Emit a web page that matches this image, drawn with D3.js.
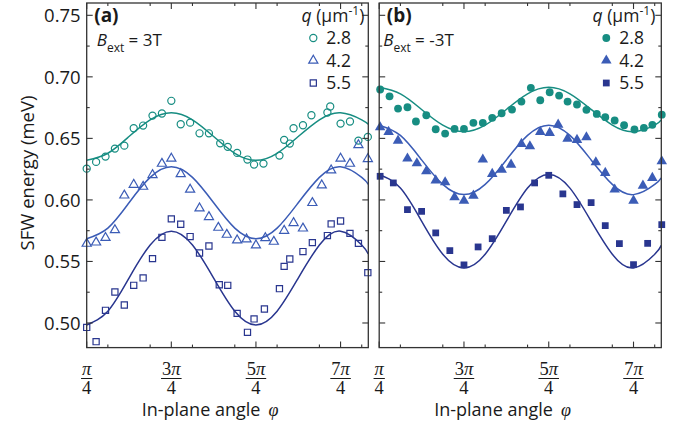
<!DOCTYPE html>
<html>
<head>
<meta charset="utf-8">
<script src="https://cdn.jsdelivr.net/npm/d3@7"></script>
<style>
  body { margin: 0; background: #fff; }
  svg { display: block; }
  text { font-family: "Open Sans", sans-serif; fill: #1a1a1a; }
</style>
</head>
<body>
<svg id="chart" width="676" height="425"></svg>
<script>
// ---- data (angle in degrees, energy in meV) ----
var angA1 = [45,55,65,75,85,95,105,115,125,135,145,155,165,175,187,195,205,216,223,233,250,255,261,265,275,284,301,304,315,325,334,344];
var valA1 = [.6254,.6309,.6352,.6417,.6441,.6582,.6604,.6685,.6702,.6805,.6615,.6628,.6541,.6541,.6460,.6431,.6382,.6328,.6287,.6295,.6360,.6488,.6458,.6582,.6607,.6688,.6710,.6759,.6620,.6637,.6482,.6512];

var angA2 = [45,55,65,75,85,95,105,115,125,135,145,155,165,175,185,194,205,215,225,235,244,255,265,275,285,295,305,315,325,334,344];
var valA2 = [.5645,.5655,.5693,.5756,.6037,.6124,.6108,.6203,.6295,.6336,.6211,.6084,.5932,.5862,.5775,.5718,.5672,.5680,.5631,.5691,.5661,.5750,.5813,.5769,.5976,.6119,.6241,.6336,.6295,.6446,.6333];

var angA3 = [45,55,65,75,85,95,105,115,125,135,145,155,165,175,186,195,205,216,223,234,250,255,261,275,285,301,305,315,325,334,344];
var valA3 = [.4964,.4848,.5103,.5252,.5146,.5306,.5366,.5523,.5696,.5846,.5802,.5702,.5569,.5626,.5311,.5306,.5078,.4924,.5033,.5114,.5279,.5460,.5520,.5580,.5653,.5710,.5805,.5829,.5728,.5647,.5409];

var angB1 = [46,56,65,75,84,95,105,115,125,135,145,155,165,175,186,196,206,216,226,236,245,255,265,276,285,295,305,316,326,335,345];
var valB1 = [.6897,.6842,.6742,.6753,.6637,.6688,.6574,.6539,.6577,.6577,.6626,.6626,.6667,.6704,.6734,.6799,.6911,.6810,.6875,.6848,.6799,.6775,.6732,.6699,.6672,.6645,.6607,.6572,.6585,.6610,.6693];

var angB2 = [46,55,65,75,85,95,105,115,125,135,145,155,165,175,185,196,205,216,226,235,245,255,265,275,285,295,315,325,335,345];
var valB2 = [.6590,.6553,.6482,.6336,.6298,.6233,.6159,.6143,.6021,.5994,.6035,.6328,.6211,.6246,.6287,.6455,.6436,.6553,.6545,.6612,.6498,.6488,.6509,.6306,.6220,.6084,.5994,.6116,.6179,.6314];

var angB3 = [46,60,75,90,105,120,135,150,165,180,195,210,225,240,255,270,285,300,315,330,345];
var valB3 = [.6192,.6138,.5921,.5907,.5732,.5588,.5472,.5618,.5685,.5915,.5943,.6138,.6200,.6049,.5962,.5978,.5791,.5645,.5474,.5647,.5799];

// fit curves
var fitAng = [45,67.5,90,112.5,135,157.5,180,202.5,225,247.5,270,292.5,315,337.5,344.5];
var fitA1 = [.6322,.6379,.6515,.6651,.6708,.6651,.6515,.6379,.6322,.6379,.6515,.6651,.6708,.6651,.6614];
var fitA2 = [.5685,.5771,.5977,.6183,.6269,.6183,.5977,.5771,.5685,.5771,.5977,.6183,.6269,.6183,.6127];
var fitA3 = [.4984,.5096,.5365,.5634,.5746,.5634,.5365,.5096,.4984,.5096,.5365,.5634,.5746,.5634,.5561];
var fitB1 = [.6915,.6862,.6735,.6608,.6555,.6608,.6735,.6862,.6915,.6862,.6735,.6608,.6555,.6608,.6650];
var fitB2 = [.6607,.6524,.6325,.6126,.6043,.6126,.6325,.6524,.6607,.6524,.6325,.6126,.6043,.6126,.6180];
var fitB3 = [.6207,.6096,.5827,.5558,.5447,.5558,.5827,.6096,.6207,.6096,.5827,.5558,.5447,.5558,.5631];

var qLabels = ["2.8", "4.2", "5.5"];
var yTicks = [0.50, 0.55, 0.60, 0.65, 0.70, 0.75];
var xTicks = [45, 135, 225, 315];
var xTickNum = ["", "3", "5", "7"];
var xMinor = [67.5, 112.5, 157.5, 202.5, 247.5, 292.5, 337.5];

var colors = ["#178d82", "#3b5cb6", "#29368f"];
var shapes = [d3.symbolCircle, d3.symbolTriangle, d3.symbolSquare];

var svg = d3.select("#chart");
var plotTop = 3, plotBottom = 347.6;

var y = d3.scaleLinear().domain([0.48, 0.76]).range([plotBottom, plotTop]);
var yMinor = [0.525, 0.575, 0.625, 0.675, 0.725];

var panels = [
  { left: 86.7, right: 368.3, tag: "(a)", field: "3T", open: true, showY: true,
    series: [[angA1, valA1, fitA1], [angA2, valA2, fitA2], [angA3, valA3, fitA3]] },
  { left: 379.2, right: 661.3, tag: "(b)", field: "-3T", open: false, showY: false,
    series: [[angB1, valB1, fitB1], [angB2, valB2, fitB2], [angB3, valB3, fitB3]] }
];

panels.forEach(function(p, pi) {
  var x = d3.scaleLinear().domain([45, 344.5]).range([p.left, p.right]);
  var g = svg.append("g");

  g.append("clipPath").attr("id", "clip" + pi)
    .append("rect")
    .attr("x", p.left).attr("y", plotTop)
    .attr("width", p.right - p.left).attr("height", plotBottom - plotTop);

  // fit lines
  var line = d3.line().x(d => x(d[0])).y(d => y(d[1])).curve(d3.curveNatural);
  p.series.forEach(function(s, i) {
    g.append("path")
      .attr("clip-path", "url(#clip" + pi + ")")
      .attr("d", line(fitAng.map((a, k) => [a, s[2][k]])))
      .attr("fill", "none")
      .attr("stroke", colors[i])
      .attr("stroke-width", 1.5);
  });

  // markers
  var sizes = p.open ? [40, 36, 38] : [48, 48, 46];
  p.series.forEach(function(s, i) {
    var sym = d3.symbol().type(shapes[i]).size(sizes[i]);
    g.append("g").selectAll("path")
      .data(s[0].map((a, k) => [a, s[1][k]]))
      .enter()
      .append("path")
      .attr("transform", d => `translate(${x(d[0])},${y(d[1])})`)
      .attr("d", sym)
      .attr("fill", p.open ? "none" : colors[i])
      .attr("stroke", p.open ? colors[i] : "none")
      .attr("stroke-width", 1.2);
  });

  // frame
  g.append("rect")
    .attr("x", p.left).attr("y", plotTop)
    .attr("width", p.right - p.left).attr("height", plotBottom - plotTop)
    .attr("fill", "none").attr("stroke", "#333").attr("stroke-width", 1.3);

  var ticks = g.append("g").attr("stroke", "#333").attr("stroke-width", 1.1);
  xTicks.forEach(function(t) {
    ticks.append("line").attr("x1", x(t)).attr("x2", x(t)).attr("y1", plotBottom).attr("y2", plotBottom - 6);
    ticks.append("line").attr("x1", x(t)).attr("x2", x(t)).attr("y1", plotTop).attr("y2", plotTop + 6);
  });
  xMinor.forEach(function(t) {
    ticks.append("line").attr("x1", x(t)).attr("x2", x(t)).attr("y1", plotBottom).attr("y2", plotBottom - 3);
    ticks.append("line").attr("x1", x(t)).attr("x2", x(t)).attr("y1", plotTop).attr("y2", plotTop + 3);
  });
  yTicks.forEach(function(t) {
    ticks.append("line").attr("x1", p.left).attr("x2", p.left + 6).attr("y1", y(t)).attr("y2", y(t));
    ticks.append("line").attr("x1", p.right).attr("x2", p.right - 6).attr("y1", y(t)).attr("y2", y(t));
  });
  yMinor.forEach(function(t) {
    ticks.append("line").attr("x1", p.left).attr("x2", p.left + 3).attr("y1", y(t)).attr("y2", y(t));
    ticks.append("line").attr("x1", p.right).attr("x2", p.right - 3).attr("y1", y(t)).attr("y2", y(t));
  });

  // y tick labels
  if (p.showY) {
    g.append("g").selectAll("text")
      .data(yTicks).enter().append("text")
      .attr("x", p.left - 6).attr("y", d => y(d))
      .attr("dy", "0.36em")
      .attr("text-anchor", "end")
      .attr("font-size", 18.5)
      .text(d => d.toFixed(2));
  }

  // x tick labels as fractions
  xTicks.forEach(function(t, k) {
    var num = g.append("text")
      .attr("x", x(t)).attr("y", 375)
      .attr("text-anchor", "middle")
      .style("font-family", "'Liberation Serif', serif")
      .attr("font-size", 18.5);
    num.append("tspan").text(xTickNum[k]);
    num.append("tspan").attr("font-style", "italic").text("π");
    var w = num.node().getComputedTextLength() + 2;
    g.append("line")
      .attr("x1", x(t) - w / 2).attr("x2", x(t) + w / 2)
      .attr("y1", 378.5).attr("y2", 378.5)
      .attr("stroke", "#1a1a1a").attr("stroke-width", 1);
    g.append("text")
      .attr("x", x(t)).attr("y", 394)
      .attr("text-anchor", "middle")
      .style("font-family", "'Liberation Serif', serif")
      .attr("font-size", 18.5)
      .text("4");
  });

  // x axis title
  var xt = g.append("text")
    .attr("x", p.left + 55).attr("y", 416)
    .attr("font-size", 18);
  xt.append("tspan").text("In-plane angle");
  xt.append("tspan").attr("dx", 8)
    .style("font-family", "'Liberation Serif', serif")
    .attr("font-style", "italic").text("φ");

  // panel tag and field
  g.append("text")
    .attr("x", p.left + 7.5).attr("y", 22)
    .attr("font-size", 19).attr("font-weight", "bold")
    .text(p.tag);
  var bt = g.append("text")
    .attr("x", p.left + (pi ? 4 : 10)).attr("y", 46)
    .attr("font-size", 17);
  bt.append("tspan").attr("font-style", "italic").text("B");
  bt.append("tspan").attr("font-size", 12).attr("dy", 6).text("ext");
  bt.append("tspan").attr("dy", -6).text(" = " + p.field);

  // legend
  var lt = g.append("text")
    .attr("x", p.right - (pi ? 6 : 4)).attr("y", 22)
    .attr("text-anchor", "end")
    .attr("font-size", 17.5);
  lt.append("tspan").attr("font-style", "italic").text("q");
  lt.append("tspan").text(" (μm");
  lt.append("tspan").attr("font-size", 12).attr("dy", -7).text("-1");
  lt.append("tspan").attr("dy", 7).text(")");

  var lx = p.right - 55;
  qLabels.forEach(function(q, i) {
    var ly = 38 + i * 22.5;
    g.append("path")
      .attr("transform", `translate(${lx},${ly})`)
      .attr("d", d3.symbol().type(shapes[i]).size(sizes[i]))
      .attr("fill", p.open ? "none" : colors[i])
      .attr("stroke", p.open ? colors[i] : "none")
      .attr("stroke-width", 1.2);
    g.append("text")
      .attr("x", lx + 13).attr("y", ly)
      .attr("dy", "0.36em")
      .attr("font-size", 17.5)
      .text(q);
  });
});

// y axis title
svg.append("text")
  .attr("transform", "translate(34,173) rotate(-90)")
  .attr("text-anchor", "middle")
  .attr("font-size", 18.5)
  .text("SFW energy (meV)");
</script>
</body>
</html>
